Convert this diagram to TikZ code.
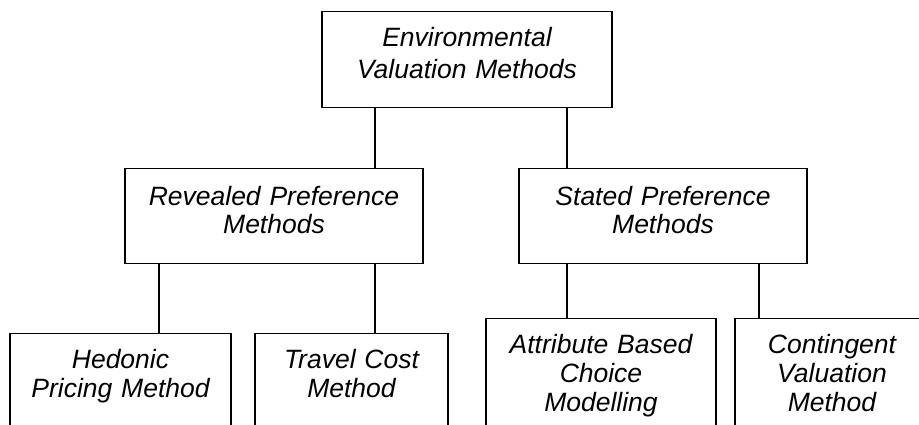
\documentclass[tikz,border=0pt]{standalone}
\usepackage{fontspec}
\setmainfont{Liberation Sans}
\usepackage{tikz}
\usetikzlibrary{positioning}

\begin{document}
\begin{tikzpicture}[x=1pt,y=-1pt,line width=1.3pt,
  method box/.style={draw,anchor=north,align=center,inner xsep=0pt,inner ysep=16pt,
    text height=19pt,font=\fontsize{26.5}{29}\selectfont\itshape},
  top box/.style={method box,text depth=45pt,font=\fontsize{26.5}{32}\selectfont\itshape},
  mid box/.style={method box,text height=21pt,text depth=42pt,font=\fontsize{26.5}{28}\selectfont\itshape},
  leaf box/.style={method box,text depth=120pt}]

  \useasboundingbox (0,0) rectangle (919,425);
  \clip (0,0) rectangle (919,425);

  \node[top box,text width=290pt] (env) at (467,11) {Environmental\\Valuation Methods};
  \node[mid box,text width=298pt] (rev) at (274,168) {Revealed Preference\\Methods};
  \node[mid box,text width=288pt] (sta) at (663,168) {Stated Preference\\Methods};

  \node[leaf box,text width=221pt] (hed) at (120.5,333) {Hedonic\\Pricing Method};
  \node[leaf box,text width=193pt] (trc) at (351.5,333) {Travel Cost\\Method};
  \node[leaf box,text width=230pt] (abc) at (601,318) {Attribute Based\\Choice\\Modelling};
  \node[leaf box,text width=194pt] (cvm) at (832,318) {Contingent\\Valuation\\Method};

  % where the connectors drop
  \coordinate (x1) at (159,0);
  \coordinate (x2) at (375,0);
  \coordinate (x3) at (567,0);
  \coordinate (x4) at (759,0);

  \draw (env.south -| x2) -- (rev.north -| x2);
  \draw (env.south -| x3) -- (sta.north -| x3);
  \draw (rev.south -| x1) -- (hed.north -| x1);
  \draw (rev.south -| x2) -- (trc.north -| x2);
  \draw (sta.south -| x3) -- (abc.north -| x3);
  \draw (sta.south -| x4) -- (cvm.north -| x4);
\end{tikzpicture}
\end{document}
